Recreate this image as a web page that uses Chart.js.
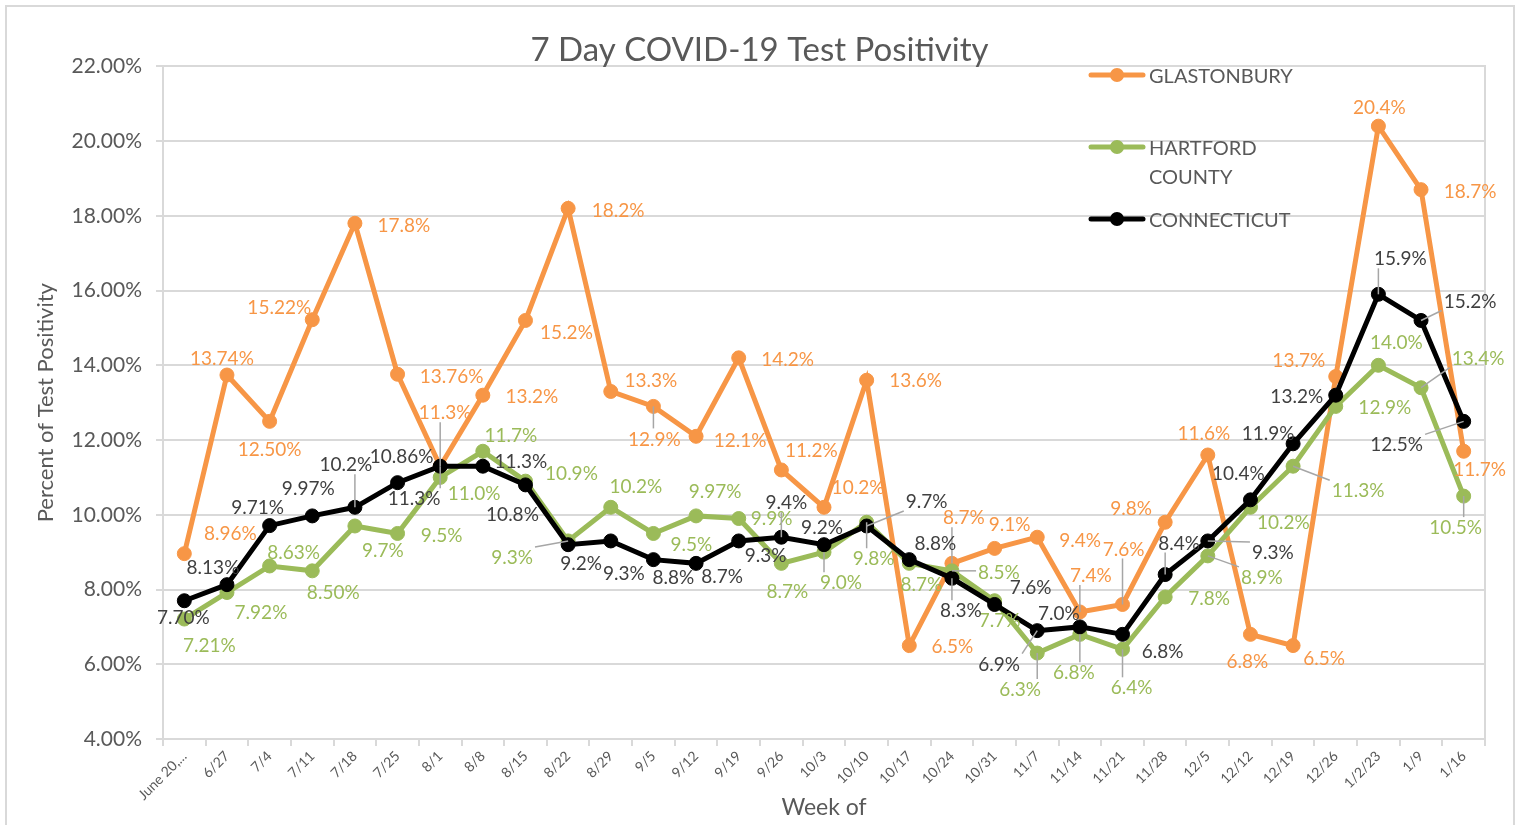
<!DOCTYPE html>
<html>
<head>
<meta charset="utf-8">
<title>7 Day COVID-19 Test Positivity</title>
<script src="https://cdn.jsdelivr.net/npm/chart.js@4.4.0/dist/chart.umd.min.js"></script>
<style>
  html, body { margin: 0; padding: 0; background: #fff; overflow: hidden; }
  #frame { position: absolute; left: 5px; top: 5px; width: 1506px; height: 900px; border: 2px solid #d9d9d9; }
  #wrap { position: absolute; left: 0; top: 0; width: 1519px; height: 825px; }
</style>
</head>
<body>
<div id="frame"></div>
<div id="wrap"><canvas id="chart"></canvas></div>
<script>
const weeks = ['June 20,...', '6/27', '7/4', '7/11', '7/18', '7/25', '8/1', '8/8', '8/15', '8/22',
  '8/29', '9/5', '9/12', '9/19', '9/26', '10/3', '10/10', '10/17', '10/24', '10/31',
  '11/7', '11/14', '11/21', '11/28', '12/5', '12/12', '12/19', '12/26', '1/2/23', '1/9', '1/16'];

const glastonbury = [8.96, 13.74, 12.50, 15.22, 17.8, 13.76, 11.3, 13.2, 15.2, 18.2,
  13.3, 12.9, 12.1, 14.2, 11.2, 10.2, 13.6, 6.5, 8.7, 9.1,
  9.4, 7.4, 7.6, 9.8, 11.6, 6.8, 6.5, 13.7, 20.4, 18.7, 11.7];
const hartfordCounty = [7.21, 7.92, 8.63, 8.50, 9.7, 9.5, 11.0, 11.7, 10.9, 9.3,
  10.2, 9.5, 9.97, 9.9, 8.7, 9.0, 9.8, 8.7, 8.5, 7.7,
  6.3, 6.8, 6.4, 7.8, 8.9, 10.2, 11.3, 12.9, 14.0, 13.4, 10.5];
const connecticut = [7.70, 8.13, 9.71, 9.97, 10.2, 10.86, 11.3, 11.3, 10.8, 9.2,
  9.3, 8.8, 8.7, 9.3, 9.4, 9.2, 9.7, 8.8, 8.3, 7.6,
  6.9, 7.0, 6.8, 8.4, 9.3, 10.4, 11.9, 13.2, 15.9, 15.2, 12.5];

// decimals shown in each data label
const glastonburyDigits = [2, 2, 2, 2, 1, 2, 1, 1, 1, 1, 1, 1, 1, 1, 1, 1, 1, 1, 1, 1, 1, 1, 1, 1, 1, 1, 1, 1, 1, 1, 1];
const hartfordDigits = [2, 2, 2, 2, 1, 1, 1, 1, 1, 1, 1, 1, 2, 1, 1, 1, 1, 1, 1, 1, 1, 1, 1, 1, 1, 1, 1, 1, 1, 1, 1];
const connecticutDigits = [2, 2, 2, 2, 1, 2, 1, 1, 1, 1, 1, 1, 1, 1, 1, 1, 1, 1, 1, 1, 1, 1, 1, 1, 1, 1, 1, 1, 1, 1, 1];

// label offsets from each point (px) and which labels get a leader line
const glastonburyLabelPos = [[46, -21], [-5, -17], [0, 28], [-33, -13], [49, 2], [54, 2], [5, -54], [49, 1], [41, 11], [50, 2],
  [40, -12], [1, 32], [44, 4], [49, 1], [30, -20], [34, -20], [49, 0], [43, 0], [12, -46], [15, -25],
  [43, 3], [11, -37], [1, -56], [-34, -14], [-4, -22], [-3, 27], [31, 12], [-37, -17], [1, -19], [49, 1], [16, 18]];
const glastonburyLeaders = [6, 11, 18, 21, 22];
const hartfordLabelPos = [[25, 26], [34, 19], [24, -14], [21, 21], [28, 24], [44, 1], [34, 15], [28, -16], [46, -8], [-56, 16],
  [25, -21], [38, 10], [19, -25], [33, -1], [6, 28], [17, 30], [7, 36], [12, 21], [47, 1], [5, 19],
  [-17, 36], [-6, 38], [9, 38], [44, 1], [54, 21], [33, 15], [65, 24], [49, 0], [18, -23], [57, -30], [-8, 31]];
const hartfordLeaders = [9, 15, 16, 18, 20, 21, 22, 24, 26, 29, 30];
const connecticutLabelPos = [[-1, 16], [-14, -18], [-12, -19], [-4, -28], [-9, -43], [4, -27], [-26, 32], [38, -5], [-13, 29], [13, 18],
  [13, 32], [20, 17], [26, 13], [27, 14], [5, -35], [-2, -18], [60, -25], [26, -17], [9, 32], [36, -18],
  [-38, 33], [-21, -14], [40, 17], [14, -32], [65, 11], [-12, -27], [-25, -11], [-39, 1], [22, -36], [49, -20], [-67, 23]];
const connecticutLeaders = [4, 6, 14, 16, 18, 20, 23, 24, 28, 29, 30];

const FONT = 'Lato';
const TEXT = '#595959';
const GRID = '#d9d9d9';

const series = (label, data, color, labelColor, digits, pos, leaders, order) => ({
  label, data, order,
  borderColor: color,
  backgroundColor: color,
  borderWidth: 5,
  pointRadius: 7,
  pointBorderWidth: 1,
  pointBackgroundColor: color,
  pointBorderColor: color,
  tension: 0,
  labelColor, digits, labelPos: pos, leaders,
});

const pointLabels = {
  id: 'pointLabels',
  afterDatasetsDraw(chart) {
    const ctx = chart.ctx;
    ctx.save();
    ctx.font = '19px ' + FONT;
    ctx.textAlign = 'center';
    ctx.textBaseline = 'middle';
    chart.data.datasets.forEach((ds, di) => {
      const meta = chart.getDatasetMeta(di);
      meta.data.forEach((pt, i) => {
        const [dx, dy] = ds.labelPos[i];
        const text = ds.data[i].toFixed(ds.digits[i]) + '%';
        const lx = pt.x + dx;
        const ly = pt.y + dy;
        if (ds.leaders.includes(i)) {
          const w = ctx.measureText(text).width / 2 + 2;
          const h = 10;
          const ex = Math.min(Math.max(pt.x, lx - w), lx + w);
          const ey = Math.min(Math.max(pt.y, ly - h), ly + h);
          ctx.strokeStyle = '#a6a6a6';
          ctx.lineWidth = 1.5;
          ctx.beginPath();
          ctx.moveTo(ex, ey);
          ctx.lineTo(pt.x, pt.y);
          ctx.stroke();
        }
        ctx.fillStyle = ds.labelColor;
        ctx.fillText(text, lx, ly + 1);
      });
    });
    ctx.restore();
  },
};

const legendBox = {
  id: 'legendBox',
  afterDraw(chart) {
    const ctx = chart.ctx;
    ctx.save();
    // legend, stacked at the top right of the plot
    ctx.font = '20px ' + FONT;
    ctx.textBaseline = 'middle';
    ctx.textAlign = 'left';
    let y = 75;
    chart.data.datasets.forEach((ds) => {
      ctx.strokeStyle = ds.borderColor;
      ctx.lineWidth = 5;
      ctx.lineCap = 'round';
      ctx.beginPath();
      ctx.moveTo(1091, y);
      ctx.lineTo(1143, y);
      ctx.stroke();
      ctx.fillStyle = ds.borderColor;
      ctx.beginPath();
      ctx.arc(1117, y, 7, 0, Math.PI * 2);
      ctx.fill();
      ctx.fillStyle = TEXT;
      const lines = ctx.measureText(ds.label).width > 160 ? ds.label.split(' ') : [ds.label];
      lines.forEach((t, k) => ctx.fillText(t, 1149, y + 2 + k * 29));
      y += 72;
    });
    ctx.restore();
  },
};

new Chart(document.getElementById('chart'), {
  type: 'line',
  data: {
    labels: weeks,
    datasets: [
      series('GLASTONBURY', glastonbury, '#f79646', '#f79646', glastonburyDigits, glastonburyLabelPos, glastonburyLeaders, 3),
      series('HARTFORD COUNTY', hartfordCounty, '#9bbb59', '#9bbb59', hartfordDigits, hartfordLabelPos, hartfordLeaders, 2),
      series('CONNECTICUT', connecticut, '#000000', '#404040', connecticutDigits, connecticutLabelPos, connecticutLeaders, 1),
    ],
  },
  options: {
    responsive: true,
    maintainAspectRatio: false,
    animation: false,
    layout: { padding: 0 },
    plugins: {
      legend: { display: false },
      tooltip: { enabled: false },
      title: {
        display: true,
        text: '7 Day COVID-19 Test Positivity',
        color: TEXT,
        font: { family: FONT, size: 33, weight: 'normal', lineHeight: 0.95 },
        padding: { top: 35, bottom: 0 },
      },
    },
    scales: {
      x: {
        offset: true,
        grid: { offset: true, drawOnChartArea: false, drawTicks: true, tickLength: 7, color: GRID, lineWidth: 2 },
        border: { color: GRID, width: 2 },
        ticks: {
          autoSkip: false, maxRotation: 45, minRotation: 45, padding: 2,
          color: TEXT, font: { family: FONT, size: 14 },
        },
        title: { display: true, text: 'Week of', color: TEXT, font: { family: FONT, size: 23 } },
        afterFit(scale) { scale.height = 86; },
      },
      y: {
        min: 4,
        max: 22,
        ticks: {
          stepSize: 2, padding: 14, color: TEXT, font: { family: FONT, size: 21 },
          callback: (v) => v.toFixed(2) + '%',
        },
        grid: { color: GRID, lineWidth: 2, tickLength: 7 },
        border: { color: GRID, width: 2 },
        title: {
          display: true, text: 'Percent of Test Positivity', color: TEXT,
          font: { family: FONT, size: 22 }, padding: { top: 33, bottom: 0 },
        },
        afterFit(scale) { scale.width = 163; },
      },
      // right edge of the plot area
      yRight: {
        position: 'right',
        min: 4,
        max: 22,
        ticks: { display: false },
        grid: { drawOnChartArea: false, drawTicks: false },
        border: { color: GRID, width: 2 },
        afterFit(scale) { scale.width = 34; },
      },
    },
  },
  plugins: [pointLabels, legendBox],
});
</script>
</body>
</html>
